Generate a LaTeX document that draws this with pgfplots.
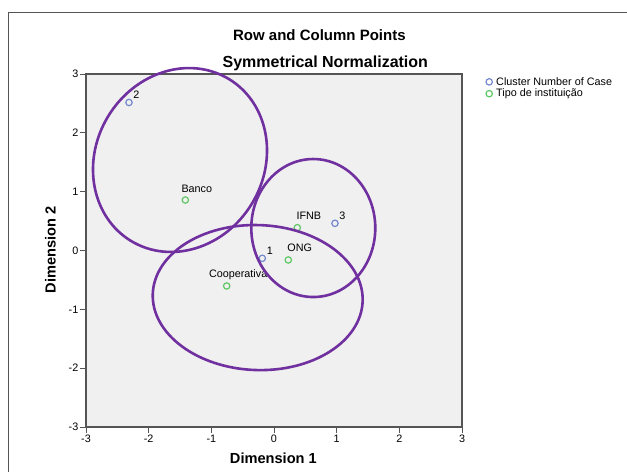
\documentclass[border=0pt]{standalone}
\usepackage{pgfplots}
\pgfplotsset{compat=1.18}
\usepackage{fontspec}
\setmainfont{Liberation Sans}
\definecolor{bgc}{RGB}{240,240,240}
\definecolor{ell}{RGB}{112,48,160}
\definecolor{cblue}{RGB}{115,135,205}
\definecolor{cgreen}{RGB}{95,200,100}
\definecolor{axc}{RGB}{85,85,85}
\begin{document}
\begin{tikzpicture}
\path[use as bounding box] (0bp,0bp) rectangle (627bp,472bp);
\clip (0bp,0bp) rectangle (627bp,472bp);
\draw[axc, line width=0.8bp] (8bp,460bp) rectangle (700bp,-50bp);
\begin{axis}[
  at={(86bp,45bp)}, anchor=south west, scale only axis,
  width=376bp, height=353bp,
  xmin=-3, xmax=3, ymin=-3, ymax=3,
  xtick={-3,-2,-1,0,1,2,3}, ytick={-3,-2,-1,0,1,2,3},
  tick align=outside, xtick pos=bottom, ytick pos=left,
  major tick length=6bp,
  axis background/.style={fill=bgc},
  axis line style={axc, line width=1.2bp},
  tick style={axc, line width=1bp},
  ticklabel style={font=\fontsize{10.8bp}{13bp}\selectfont, inner sep=1.5bp},
  /pgf/number format/assume math mode=true,
  clip=false,
  legend style={draw=none, fill=none, at={(1,1)}, anchor=north west,
    xshift=23bp, yshift=-2bp, font=\fontsize{10.8bp}{13bp}\selectfont,
    inner sep=0pt, row sep=0.5bp, nodes={inner sep=1bp}},
  legend cell align=left,
  legend image code/.code={\path[draw=none] (0bp,0bp) -- (10bp,0bp);\draw[#1] plot coordinates {(4bp,0bp)};},
]
\addplot[only marks, mark=o, mark size=3.2bp, draw=cblue, line width=1.2bp,
  nodes near coords, point meta=explicit symbolic,
  nodes near coords style={font=\fontsize{10.8bp}{13bp}\selectfont, anchor=base,
    inner sep=0pt, xshift=7.5bp, yshift=4bp, text=black}]
  table[meta=label] {
x y label
-2.314 2.516 2
-0.187 -0.133 1
0.973 0.462 3
};
\addlegendentry{Cluster Number of Case}
\addplot[only marks, mark=o, mark size=3.2bp, draw=cgreen, line width=1.2bp,
  nodes near coords, point meta=explicit symbolic,
  nodes near coords style={font=\fontsize{10.8bp}{13bp}\selectfont, anchor=base,
    inner sep=0pt, xshift=11.5bp, yshift=8bp, text=black}]
  table[meta=label] {
x y label
-1.415 0.858 Banco
0.372 0.388 IFNB
0.228 -0.161 ONG
-0.755 -0.603 Cooperativa
};
\addlegendentry{Tipo de instituição}
\coordinate (E1) at (axis cs:-1.50,1.538);
\coordinate (E2) at (axis cs:0.627,0.382);
\coordinate (E3) at (axis cs:-0.26,-0.80);
\end{axis}
\draw[ell, line width=2.6bp, rotate around={59:(E1)}] (E1) ellipse [x radius=94.6bp, y radius=84.1bp];
\draw[ell, line width=2.6bp] (E2) ellipse [x radius=62bp, y radius=69bp];
\draw[ell, line width=2.6bp, rotate around={-2:(E3)}] (E3) ellipse [x radius=105bp, y radius=72.5bp];
\node[anchor=base, inner sep=0pt, font=\bfseries\fontsize{15bp}{18bp}\selectfont] at (319.4bp,431.5bp) {Row and Column Points};
\node[anchor=base, inner sep=0pt, font=\bfseries\fontsize{16bp}{19bp}\selectfont] at (325.3bp,404bp) {Symmetrical Normalization};
\node[anchor=base, inner sep=0pt, font=\bfseries\fontsize{14.6bp}{17bp}\selectfont] at (273.4bp,8.7bp) {Dimension 1};
\node[anchor=base, inner sep=0pt, rotate=90, font=\bfseries\fontsize{14.6bp}{17bp}\selectfont] at (55.5bp,222bp) {Dimension 2};
\end{tikzpicture}
\end{document}
